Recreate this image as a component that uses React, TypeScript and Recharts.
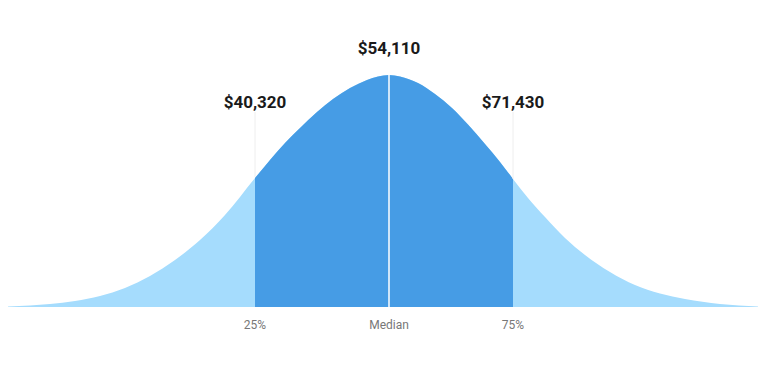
import React from 'react';
import {
  AreaChart,
  Area,
  XAxis,
  YAxis,
  ReferenceLine,
  ReferenceDot
} from 'recharts';

// horizontal position along the curve (px-like units) and curve height
const positions = [8, 30, 50, 75, 100, 125, 150, 175, 200, 225, 255, 270, 285, 300, 317, 333, 350, 367, 378, 389, 400, 418, 435, 452, 468, 485, 500, 513, 528, 545, 565, 585, 610, 635, 660, 685, 720, 758];
const heights = [0.5, 1.5, 3, 6, 11, 19, 31, 47, 67, 92, 129, 147, 164, 179, 195, 208, 219, 227, 230.6, 232, 230.6, 224, 213, 199, 182.5, 163, 145, 128, 109, 90, 69, 52, 35, 22, 13.5, 8, 3, 0.5];

const markerPositions = [255, 389, 513];
const markerTicks = ['25%', 'Median', '75%'];
const markerValues = ['$40,320', '$54,110', '$71,430'];
const labelHeights = [205, 259, 205];

const data = positions.map((x, i) => ({
  x,
  all: heights[i],
  mid: x >= markerPositions[0] && x <= markerPositions[2] ? heights[i] : null
}));

const tickText = (v: number) => {
  const i = markerPositions.indexOf(v);
  return i >= 0 ? markerTicks[i] : '';
};

export default function App() {
  return (
    <div style={{ position: 'absolute', left: 0, top: 0, width: 770, height: 370, background: '#fff', fontFamily: 'Roboto, sans-serif' }}>
      <AreaChart
        width={770}
        height={370}
        data={data}
        margin={{ top: 7, right: 10, left: 8, bottom: 33 }}
      >
        <XAxis
          dataKey="x"
          type="number"
          domain={[8, 760]}
          ticks={markerPositions}
          tickFormatter={tickText}
          axisLine={false}
          tickLine={false}
          tickMargin={7}
          height={30}
          tick={{ fill: '#777', fontSize: 12 }}
        />
        <YAxis hide domain={[0, 300]} />
        <Area
          type="monotone"
          dataKey="all"
          stroke="none"
          fill="#a5dcfd"
          fillOpacity={1}
          isAnimationActive={false}
        />
        <Area
          type="monotone"
          dataKey="mid"
          stroke="none"
          fill="#469ce5"
          fillOpacity={1}
          isAnimationActive={false}
        />
        <ReferenceLine
          segment={[{ x: markerPositions[0], y: 130 }, { x: markerPositions[0], y: 195 }]}
          stroke="#eeeeee"
        />
        <ReferenceLine
          segment={[{ x: markerPositions[2], y: 128 }, { x: markerPositions[2], y: 195 }]}
          stroke="#eeeeee"
        />
        <ReferenceLine x={markerPositions[1]} stroke="#ffffff" strokeWidth={1.5} />
        {markerPositions.map((x, i) => (
          <ReferenceDot
            key={x}
            x={x}
            y={labelHeights[i]}
            r={0}
            ifOverflow="visible"
            label={{
              value: markerValues[i],
              position: 'center',
              fill: '#1a1a1a',
              fontSize: 17,
              fontWeight: 700
            }}
          />
        ))}
      </AreaChart>
    </div>
  );
}
